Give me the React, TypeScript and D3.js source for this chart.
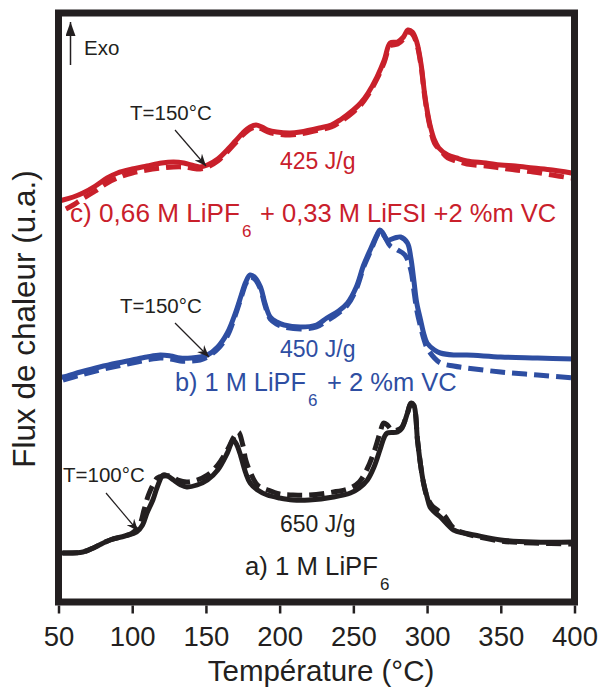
import React, { useEffect, useRef } from "react";
import * as d3 from "d3";

// Temperature (°C) and heat flow (arbitrary units, measured downward from the top of the frame)
const redSolidT = [50, 53, 60, 66.6, 75, 83, 90, 100, 110, 120, 128, 135, 140, 146, 151, 158, 165, 170, 175, 180, 184, 188, 192, 198, 207, 214, 227, 235, 241, 250, 255, 260, 266, 271, 275, 280, 284, 287, 290, 293, 296, 298, 300, 302, 305, 308, 314, 320, 327, 340, 350, 360, 372, 385, 398, 400];
const redSolidY = [201, 200, 197, 193, 186, 178, 173, 169, 166, 163, 162, 163, 165, 167, 165, 159, 149, 141, 133, 127, 125, 127, 130, 132, 133, 132, 128, 125, 120, 110, 103, 93, 77, 60, 43, 42, 37, 30, 32, 42, 65, 90, 110, 125, 140, 148, 155, 158, 161, 163, 165, 166, 168, 170, 173, 174];
const redDashT = [55, 60, 66, 75, 83, 90, 100, 110, 120, 128, 135, 140, 146, 151, 158, 165, 170, 175, 180, 184, 188, 192, 198, 207, 214, 227, 235, 241, 250, 255, 260, 266, 271, 275, 280, 284, 287, 290, 293, 296, 298, 300, 302, 305, 310, 314, 320, 327, 340, 350, 360, 372, 385, 398, 400];
const redDashY = [209, 205, 199, 191, 183, 178, 173, 170, 168, 167, 167, 168, 169, 167, 161, 151, 143, 135, 129, 127, 129, 132, 134, 135, 134, 130, 127, 122, 112, 105, 95, 79, 62, 46, 44, 39, 32, 34, 44, 67, 92, 112, 127, 143, 152, 158, 161, 164, 166, 168, 170, 172, 175, 178, 178];

const blueSolidT = [50, 53, 65, 78, 90, 100, 110, 119, 126, 132.5, 140, 146, 151, 158, 164.5, 170, 174, 177, 180, 183, 187, 190, 193.6, 198, 203, 214, 225, 232, 240, 246, 252, 257, 262, 266, 268, 270, 273, 278, 282, 286.7, 289, 291, 293, 295.6, 298, 300, 305, 309, 318, 327, 350, 375, 400];
const blueSolidY = [377, 377, 372, 367, 363, 360, 357, 355, 356, 358, 358, 357, 355, 347, 333, 313, 295, 282, 275, 277, 287, 303, 317, 322, 325, 327, 325, 318, 311, 303, 287, 265, 248, 235, 230, 233, 240, 238, 237, 243, 258, 280, 303, 320, 335, 343, 350, 353, 355, 355, 357, 358, 359];
const blueDashT = [53, 65, 78, 90, 100, 110, 119, 126, 132.5, 140, 146, 151, 158, 164.5, 170, 174, 177, 180, 183, 187, 190, 193.6, 198, 203, 214, 225, 232, 240, 246, 252, 257, 262, 266, 268, 271, 275, 280, 285, 289, 291, 293, 295.6, 298, 300, 305, 309, 318, 327, 350, 375, 400];
const blueDashY = [380, 375, 370, 366, 363, 360, 358, 359, 361, 361, 360, 357, 349, 336, 315, 297, 284, 277, 279, 289, 305, 319, 324, 327, 329, 327, 321, 313, 305, 289, 267, 250, 236, 231, 236, 246, 250, 255, 270, 290, 310, 327, 340, 348, 358, 363, 366, 368, 372, 375, 378];

const blackSolidT = [50, 53, 66.6, 75, 85, 95, 103, 107, 110, 114, 117, 121, 124, 128, 133, 137, 144, 151, 158, 164.5, 168.5, 171, 173, 177, 180, 185, 191.6, 200, 209, 220, 236.6, 248, 254, 259.5, 264, 268, 271, 273, 280, 283, 286.7, 289, 291, 293.5, 295.6, 297.6, 300, 302, 305, 309, 318, 325, 332, 350, 372, 400];
const blackSolidY = [553, 553, 552, 547, 540, 536, 532, 525, 513, 500, 487, 475, 476, 480, 485, 487, 485, 480, 470, 453, 440, 445, 453, 473, 483, 490, 495, 498, 500, 500, 497, 493, 488, 480, 467, 450, 437, 433, 432, 428, 413, 403, 405, 440, 465, 483, 497, 507, 512, 517, 530, 533, 535, 540, 542, 542];
const blackDashT = [53, 66.6, 75, 85, 95, 100, 105, 108, 111, 114, 117, 121, 126, 131, 137, 144, 151, 158, 164.5, 169, 172, 175, 177, 180, 185, 192, 200, 209, 220, 236.6, 248, 254, 259, 264, 268, 270.5, 273, 276, 280, 283, 286.7, 289, 291, 293.5, 295.6, 297.6, 300, 303, 306, 309, 312, 318, 325, 332, 350, 372, 400];
const blackDashY = [553, 552, 547, 540, 536, 533, 525, 510, 495, 485, 478, 476, 476, 480, 482, 480, 475, 465, 450, 437, 432, 445, 460, 472, 485, 490, 494, 495, 495, 492, 488, 482, 470, 452, 433, 423, 425, 430, 430, 427, 413, 404, 406, 440, 465, 483, 497, 505, 509, 512, 516, 528, 533, 536, 541, 543, 544];

const xTicks = [50, 100, 150, 200, 250, 300, 350, 400];

const RED = "#c9202b";
const BLUE = "#2e4ea2";
const BLACK = "#231f20";

export default function App() {
  const ref = useRef<SVGSVGElement>(null);

  useEffect(() => {
    const svg = d3.select(ref.current);
    svg.selectAll("*").remove();

    const left = 58.5, right = 574.5, top = 13, bottom = 602;
    const x = d3.scaleLinear().domain([50, 400]).range([left, right]);
    // heat-flow values are measured from the frame top downward (0 = top, 589 = bottom)
    const y = d3.scaleLinear().domain([0, 589]).range([top, bottom]);
    const font = "'Liberation Sans', Arial, sans-serif";

    const defs = svg.append("defs");
    defs.append("marker").attr("id", "ah").attr("viewBox", "0 0 12 10").attr("refX", 12).attr("refY", 5)
      .attr("markerWidth", 12).attr("markerHeight", 10).attr("markerUnits", "userSpaceOnUse").attr("orient", "auto")
      .append("path").attr("d", "M0,0 L12,5 L0,10 L4,5 Z").attr("fill", BLACK);
    defs.append("marker").attr("id", "ah2").attr("viewBox", "0 0 14 10").attr("refX", 14).attr("refY", 5)
      .attr("markerWidth", 14).attr("markerHeight", 10).attr("markerUnits", "userSpaceOnUse").attr("orient", "auto")
      .append("path").attr("d", "M0,0 L14,5 L0,10 Z").attr("fill", BLACK);

    const mk = (T: number[], V: number[]) => T.map((t, i) => [t, V[i] - 13] as [number, number]);
    const line = d3.line<[number, number]>().x(d => x(d[0])).y(d => y(d[1])).curve(d3.curveCatmullRom.alpha(0.5));

    const series = [
      { T: redDashT, V: redDashY, c: RED, dash: true },
      { T: redSolidT, V: redSolidY, c: RED, dash: false },
      { T: blueDashT, V: blueDashY, c: BLUE, dash: true },
      { T: blueSolidT, V: blueSolidY, c: BLUE, dash: false },
      { T: blackDashT, V: blackDashY, c: BLACK, dash: true },
      { T: blackSolidT, V: blackSolidY, c: BLACK, dash: false },
    ];
    series.forEach(s => {
      svg.append("path").attr("d", line(mk(s.T, s.V)) as string).attr("fill", "none")
        .attr("stroke", s.c).attr("stroke-width", 5).attr("stroke-linejoin", "round")
        .attr("stroke-dasharray", s.dash ? "15,7" : null);
    });

    // frame
    svg.append("rect").attr("x", left).attr("y", top).attr("width", right - left).attr("height", bottom - top)
      .attr("fill", "none").attr("stroke", BLACK).attr("stroke-width", 7);

    // x axis ticks
    const ax = svg.append("g").attr("transform", `translate(0,${bottom + 3.5})`)
      .call(d3.axisBottom(x).tickValues(xTicks).tickSize(8).tickFormat(d3.format("d")) as any);
    ax.select(".domain").remove();
    ax.selectAll(".tick line").attr("stroke", BLACK).attr("stroke-width", 2.5);
    ax.selectAll(".tick text").attr("fill", BLACK).attr("font-family", font).attr("font-size", 27.5)
      .attr("y", 0).attr("dy", null).attr("transform", "translate(0,40)");

    // axis titles
    svg.append("text").attr("x", 321).attr("y", 681).attr("text-anchor", "middle").attr("font-family", font)
      .attr("font-size", 29.5).attr("fill", BLACK).text("Température (°C)");
    svg.append("text").attr("transform", "translate(35,319) rotate(-90)").attr("text-anchor", "middle")
      .attr("font-family", font).attr("font-size", 31.5).attr("fill", BLACK).text("Flux de chaleur (u.a.)");

    // Exo arrow
    svg.append("line").attr("x1", 70.5).attr("y1", 65).attr("x2", 70.5).attr("y2", 22).attr("stroke", BLACK)
      .attr("stroke-width", 1.5).attr("marker-end", "url(#ah2)");
    svg.append("text").attr("x", 84).attr("y", 55).attr("font-family", font).attr("font-size", 20.5).attr("fill", BLACK).text("Exo");

    // T annotations
    const ann = [
      { t: "T=150°C", tx: 130, ty: 120, x1: 175, y1: 130, x2: 206, y2: 166 },
      { t: "T=150°C", tx: 120, ty: 313, x1: 175, y1: 323, x2: 209, y2: 357 },
      { t: "T=100°C", tx: 63, ty: 482, x1: 106, y1: 493, x2: 138, y2: 531 },
    ];
    ann.forEach(a => {
      svg.append("text").attr("x", a.tx).attr("y", a.ty).attr("font-family", font).attr("font-size", 20.5)
        .attr("fill", BLACK).text(a.t);
      svg.append("line").attr("x1", a.x1).attr("y1", a.y1).attr("x2", a.x2).attr("y2", a.y2)
        .attr("stroke", BLACK).attr("stroke-width", 1.2).attr("marker-end", "url(#ah)");
    });

    // energy labels
    const lbl = (xx: number, yy: number, t: string, c: string) =>
      svg.append("text").attr("x", xx).attr("y", yy).attr("font-family", font).attr("font-size", 23).attr("fill", c).text(t);
    lbl(280, 169, "425 J/g", RED);
    lbl(280, 357, "450 J/g", BLUE);
    lbl(280, 532, "650 J/g", BLACK);

    const comp = (xx: number, yy: number, a: string, subX: number, b: string, bX: number, c: string) => {
      const g = svg.append("g").attr("font-family", font).attr("fill", c);
      g.append("text").attr("x", xx).attr("y", yy).attr("font-size", 25.5).attr("textLength", subX - xx - 2)
        .attr("lengthAdjust", "spacingAndGlyphs").text(a);
      g.append("text").attr("x", subX).attr("y", yy + 15).attr("font-size", 17).text("6");
      if (b) g.append("text").attr("x", bX).attr("y", yy).attr("font-size", 25.5).text(b);
    };
    comp(70, 222, "c) 0,66 M LiPF", 242, "+ 0,33 M LiFSI +2 %m VC", 260, RED);
    comp(175, 391, "b) 1 M LiPF", 308, "+ 2 %m VC", 327, BLUE);
    comp(245, 575, "a) 1 M LiPF", 380, "", 0, BLACK);
  }, []);

  return (
    <svg ref={ref} width={599} height={688} style={{ position: "absolute", left: 0, top: 0, background: "#fff" }} />
  );
}
